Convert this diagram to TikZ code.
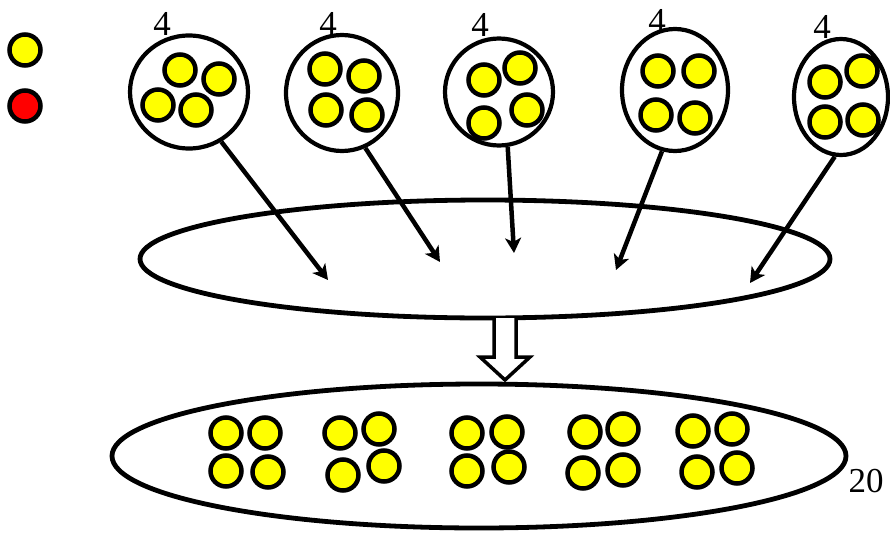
\documentclass[tikz,border=0pt]{standalone}
\usepackage{fontspec}
\setmainfont{Liberation Serif}
\usetikzlibrary{shapes.geometric,arrows.meta}
\definecolor{ballyellow}{RGB}{255,255,0}
\definecolor{ballred}{RGB}{255,0,0}
\begin{document}
\begin{tikzpicture}[x=1pt,y=-1pt,
  ball/.style={circle,draw,line width=4.5pt,fill=ballyellow,minimum size=31pt,inner sep=0pt},
  redball/.style={ball,fill=ballred},
  bag/.style={ellipse,draw,line width=4.2pt,inner sep=0pt},
  pool/.style={ellipse,draw,line width=4.8pt,inner sep=0pt},
  num/.style={font=\fontsize{35}{40}\selectfont,inner sep=0pt},
  feed/.style={line width=4.5pt,-{Stealth[length=15pt,width=16pt,inset=4pt]}},
  hollow/.style={draw,line width=3.5pt,fill=white,line join=miter}]
\useasboundingbox (0,0) rectangle (890,535);

% legend
\node[ball] (ly) at (25,50) {};
\node[redball] (lr) at (25,106) {};

% pools
\node[pool,minimum width=690pt,minimum height=118pt] (mid) at (485,259) {};
\node[pool,minimum width=734pt,minimum height=144pt] (low) at (479,456) {};

% bags
\node[bag,minimum width=118pt,minimum height=113pt] (c1) at (189,92) {};
\node[bag,minimum width=112pt,minimum height=116pt] (c2) at (342,93) {};
\node[bag,minimum width=108pt,minimum height=107pt] (c3) at (499,92) {};
\node[bag,minimum width=106pt,minimum height=122pt] (c4) at (675,90) {};
\node[bag,minimum width=94pt,minimum height=116pt] (c5) at (841,97) {};

% numbers
\node[num] (n1) at (162,24) {4};
\node[num] (n2) at (328,24) {4};
\node[num] (n3) at (480,25) {4};
\node[num] (n4) at (657,21) {4};
\node[num] (n5) at (822,27) {4};
\node[num] (n20) at (866,481) {20};

% balls in bags
\node[ball] (b1a) at (180,70) {};
\node[ball] (b1b) at (219,79) {};
\node[ball] (b1c) at (158,105) {};
\node[ball] (b1d) at (196,110) {};

\node[ball] (b2a) at (325,69) {};
\node[ball] (b2b) at (364,76) {};
\node[ball] (b2c) at (326,110) {};
\node[ball] (b2d) at (367,115) {};

\node[ball] (b3a) at (484,80) {};
\node[ball] (b3b) at (520,68) {};
\node[ball] (b3c) at (484,123) {};
\node[ball] (b3d) at (527,110) {};

\node[ball] (b4a) at (658,71) {};
\node[ball] (b4b) at (699,71) {};
\node[ball] (b4c) at (656,115) {};
\node[ball] (b4d) at (695,118) {};

\node[ball] (b5a) at (825,82) {};
\node[ball] (b5b) at (862,71) {};
\node[ball] (b5c) at (825,122) {};
\node[ball] (b5d) at (863,120) {};

% arrow targets
\coordinate (t1) at (328,280);
\coordinate (t2) at (440,262);
\coordinate (t3) at (514,253);
\coordinate (t4) at (616,270);
\coordinate (t5) at (750,283);

\draw[feed] (c1.-57) -- (t1);
\draw[feed] (c2.-67) -- (t2);
\draw[feed] (c3.-81) -- (t3);
\draw[feed] (c4.-102) -- (t4);
\draw[feed] (c5.-96) -- (t5);

% hollow arrow
\draw[hollow] (494,318) -- (494,357) -- (480,357) -- (505,380) -- (530,357) -- (516,357) -- (516,318);

% balls in lower pool
\node[ball] (g1a) at (226,433) {};
\node[ball] (g1b) at (265,433) {};
\node[ball] (g1c) at (226,471) {};
\node[ball] (g1d) at (268,472) {};

\node[ball] (g2a) at (340,433) {};
\node[ball] (g2b) at (379,429) {};
\node[ball] (g2c) at (343,475) {};
\node[ball] (g2d) at (384,466) {};

\node[ball] (g3a) at (467,433) {};
\node[ball] (g3b) at (507,432) {};
\node[ball] (g3c) at (467,471) {};
\node[ball] (g3d) at (509,467) {};

\node[ball] (g4a) at (585,432) {};
\node[ball] (g4b) at (623,429) {};
\node[ball] (g4c) at (583,473) {};
\node[ball] (g4d) at (623,470) {};

\node[ball] (g5a) at (693,431) {};
\node[ball] (g5b) at (732,429) {};
\node[ball] (g5c) at (697,472) {};
\node[ball] (g5d) at (737,468) {};
\end{tikzpicture}
\end{document}
